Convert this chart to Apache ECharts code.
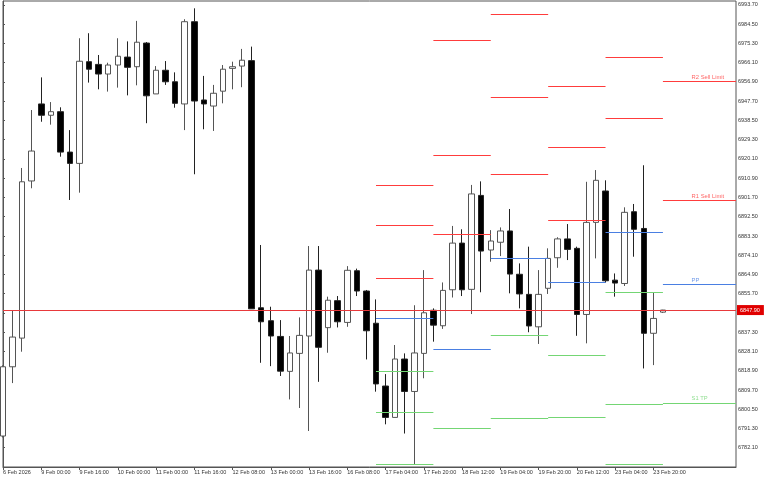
<!DOCTYPE html>
<html><head><meta charset="utf-8">
<script src="https://cdn.jsdelivr.net/npm/echarts@6/dist/echarts.min.js"></script>
<style>html,body{margin:0;padding:0;background:#fff}#c{width:768px;height:480px}</style>
</head><body><div id="c"></div>
<script>
// ---- candle data (H4 bars, index 0..69) ----
const opens = [6787.7, 6820.8, 6834.5, 6909.6, 6946.4, 6941.0, 6942.7, 6923.4, 6918.0, 6966.6,
  6965.3, 6960.7, 6965.0, 6968.8, 6964.2, 6975.5, 6951.2, 6962.5, 6957.0, 6946.4,
  6985.7, 6948.3, 6945.4, 6952.5, 6963.4, 6964.5, 6967.1, 6849.0, 6842.8, 6835.3,
  6818.6, 6827.2, 6835.5, 6867.0, 6839.5, 6852.4, 6842.0, 6866.7, 6857.0, 6841.6,
  6811.6, 6796.6, 6824.5, 6809.0, 6827.2, 6847.8, 6840.4, 6857.6, 6879.9, 6857.8,
  6902.7, 6876.6, 6880.3, 6885.7, 6865.0, 6855.4, 6839.9, 6858.3, 6872.9, 6881.9,
  6877.4, 6845.8, 6889.8, 6904.8, 6862.2, 6860.6, 6894.9, 6886.9, 6836.8, 6846.9];
const closes = [6820.8, 6835.0, 6909.2, 6923.9, 6941.0, 6942.7, 6923.4, 6918.0, 6966.8, 6963.0,
  6960.7, 6965.0, 6969.2, 6963.9, 6975.9, 6950.3, 6962.5, 6957.0, 6946.7, 6985.7,
  6947.8, 6946.4, 6951.5, 6963.0, 6964.2, 6967.3, 6848.5, 6842.3, 6835.5, 6818.7,
  6827.4, 6835.8, 6867.0, 6830.1, 6852.6, 6842.3, 6866.9, 6857.0, 6838.0, 6812.6,
  6796.6, 6824.5, 6809.0, 6827.4, 6846.6, 6840.7, 6857.3, 6879.9, 6857.6, 6903.4,
  6876.1, 6880.9, 6885.7, 6865.1, 6855.6, 6840.3, 6855.4, 6872.6, 6881.9, 6876.9,
  6845.8, 6889.8, 6909.9, 6861.9, 6860.8, 6894.6, 6886.5, 6836.8, 6843.9, 6847.9];
const highs = [6821.5, 6847.9, 6915.8, 6943.5, 6959.1, 6947.3, 6944.8, 6933.9, 6977.8, 6980.2,
  6969.8, 6966.1, 6977.8, 6976.3, 6986.1, 6976.0, 6964.5, 6966.9, 6961.5, 6986.9,
  6992.1, 6959.8, 6955.5, 6965.0, 6966.6, 6972.7, 6973.8, 6879.0, 6849.5, 6843.1,
  6835.5, 6844.4, 6878.5, 6878.5, 6854.3, 6854.6, 6868.9, 6867.7, 6857.5, 6853.0,
  6817.3, 6831.2, 6827.2, 6850.2, 6867.0, 6848.7, 6861.1, 6888.1, 6886.5, 6907.7,
  6909.4, 6886.1, 6887.4, 6896.2, 6870.2, 6878.2, 6867.0, 6877.4, 6882.7, 6889.0,
  6878.2, 6909.2, 6914.8, 6909.9, 6865.4, 6897.0, 6898.6, 6917.1, 6856.4, 6848.0];
const lows = [6787.0, 6813.0, 6828.0, 6906.1, 6937.9, 6936.5, 6921.2, 6900.5, 6904.0, 6956.6,
  6953.4, 6952.3, 6954.2, 6950.5, 6955.3, 6937.2, 6951.2, 6955.5, 6944.6, 6933.9,
  6912.8, 6934.3, 6933.5, 6946.7, 6953.4, 6954.4, 6848.5, 6822.7, 6821.1, 6816.4,
  6805.2, 6801.1, 6790.1, 6813.6, 6827.5, 6839.6, 6839.9, 6854.6, 6824.3, 6808.9,
  6793.3, 6796.6, 6788.9, 6774.3, 6815.3, 6832.8, 6838.9, 6853.9, 6854.6, 6846.0,
  6856.4, 6871.0, 6873.7, 6855.9, 6848.7, 6837.3, 6831.7, 6855.6, 6868.1, 6871.8,
  6835.6, 6832.0, 6872.6, 6861.0, 6854.3, 6859.4, 6873.4, 6820.0, 6821.6, 6846.5];

// ---- x tick labels (bar index -> text) ----
const xTickIdx = [0, 4, 8, 12, 16, 20, 24, 28, 32, 36, 40, 44, 48, 52, 56, 60, 64, 68];
const xTickLabels = ['6 Feb 2026', '9 Feb 00:00', '9 Feb 16:00', '10 Feb 00:00', '11 Feb 00:00',
  '11 Feb 16:00', '12 Feb 08:00', '13 Feb 00:00', '13 Feb 16:00', '16 Feb 08:00', '17 Feb 04:00',
  '17 Feb 20:00', '18 Feb 12:00', '19 Feb 04:00', '19 Feb 20:00', '20 Feb 12:00', '23 Feb 04:00',
  '23 Feb 20:00'];

// ---- y tick labels ----
const yTicks = [6782.10, 6791.30, 6800.50, 6809.70, 6818.90, 6828.10, 6837.30, 6846.50, 6855.70,
  6864.90, 6874.10, 6883.30, 6892.50, 6901.70, 6910.90, 6920.10, 6929.30, 6938.50, 6947.70,
  6956.90, 6966.10, 6975.30, 6984.50, 6993.70];

// ---- daily pivot levels (period start bar index) ----
const periodStart = [39, 45, 51, 57, 63, 69];
const r3 = [6907.5, 6976.8, 6989.4, 6955.0, null, null];
const r2 = [6888.2, 6922.0, 6949.4, 6925.7, 6968.7, 6957.4];
const r1 = [6863.1, 6884.1, 6912.9, 6890.6, 6939.4, 6900.5];
const pp = [6843.9, 6829.4, 6872.6, 6861.2, 6885.3, 6860.2];
const s1 = [6818.8, 6791.5, 6836.1, 6826.3, 6856.4, 6803.6];
const s2 = [6799.3, null, 6796.1, 6796.6, 6802.8, null];
const s3 = [6774.3, null, null, null, 6774.0, null];

const levelNames = ['R2 Sell Limit', 'R1 Sell Limit', 'PP', 'S1 TP'];
const currentPrice = 6847.90;

// ---- styling / layout ----
const RED = '#ff3c3c', BLUE = '#4a7fe2', GREEN = '#74d674';
const X_MAX = 76.64;
const LABEL_X = 72;
const FONT = 'Liberation Sans, Arial, sans-serif';

const candleData = opens.map((o, i) => [i, o, closes[i], lows[i], highs[i]]);

const segs = [];
[[r3, RED], [r2, RED], [r1, RED], [pp, BLUE], [s1, GREEN], [s2, GREEN], [s3, GREEN]].forEach(([arr, col]) => {
  arr.forEach((v, k) => {
    if (v == null) return;
    const end = k < periodStart.length - 1 ? periodStart[k + 1] : X_MAX;
    segs.push([
      { coord: [periodStart[k], v], lineStyle: { color: col, width: 1, type: 'solid' }, label: { show: false } },
      { coord: [end, v] }
    ]);
  });
});
segs.push({
  yAxis: currentPrice,
  lineStyle: { color: '#e8393b', width: 1, type: 'solid' },
  label: {
    show: true, position: 'end', distance: 1, formatter: currentPrice.toFixed(2),
    backgroundColor: '#e00000', color: '#fff', padding: [2, 4, 2, 3],
    fontSize: 5.5, fontFamily: FONT
  }
});

const last = periodStart.length - 1;
const labelVals = [r2[last], r1[last], pp[last], s1[last]];
const labelCols = [RED, RED, BLUE, GREEN];

const chart = echarts.init(document.getElementById('c'), null, { renderer: 'canvas' });
chart.setOption({
  animation: false,
  backgroundColor: '#fff',
  grid: { left: 1, right: 32, top: 1, bottom: 13, show: true, borderColor: '#555', borderWidth: 1, backgroundColor: 'transparent' },
  xAxis: {
    type: 'value', min: 0, max: X_MAX, interval: 4,
    splitLine: { show: false },
    axisLine: { show: true, lineStyle: { color: '#555', width: 1 } },
    axisTick: { show: true, length: 3, lineStyle: { color: '#555' }, customValues: xTickIdx },
    axisLabel: {
      customValues: xTickIdx,
      formatter: v => { const k = xTickIdx.indexOf(Math.round(v)); return k >= 0 ? xTickLabels[k] : ''; },
      align: 'left', margin: 2, fontSize: 5.5, color: '#333', fontFamily: FONT,
      showMinLabel: true, showMaxLabel: true, hideOverlap: false
    }
  },
  yAxis: {
    type: 'value', position: 'right', min: 6772.9, max: 6995.6, scale: true,
    splitLine: { show: false },
    axisLine: { show: true, lineStyle: { color: '#555', width: 1 } },
    axisTick: { show: true, length: 2, inside: false, lineStyle: { color: '#555' }, customValues: yTicks },
    axisLabel: {
      customValues: yTicks,
      formatter: v => v.toFixed(2), margin: 2, fontSize: 5.5, color: '#333', fontFamily: FONT
    }
  },
  series: [
    {
      type: 'candlestick',
      data: candleData,
      encode: { x: 0, y: [1, 2, 3, 4] },
      barWidth: 6,
      clip: true,
      itemStyle: { color: '#ffffff', color0: '#000000', borderColor: '#555555', borderColor0: '#222222', borderWidth: 1 },
      markLine: {
        silent: true, symbol: ['none', 'none'], animation: false,
        data: segs
      },
      z: 3
    },
    {
      type: 'scatter',
      symbolSize: 0,
      silent: true,
      data: labelVals.map((v, k) => ({ value: [LABEL_X, v], label: { color: labelCols[k] } })),
      label: {
        show: true, position: 'top', align: 'left', distance: 1,
        formatter: p => levelNames[p.dataIndex], fontSize: 5.8, fontFamily: FONT
      },
      z: 4
    }
  ]
});
</script></body></html>
